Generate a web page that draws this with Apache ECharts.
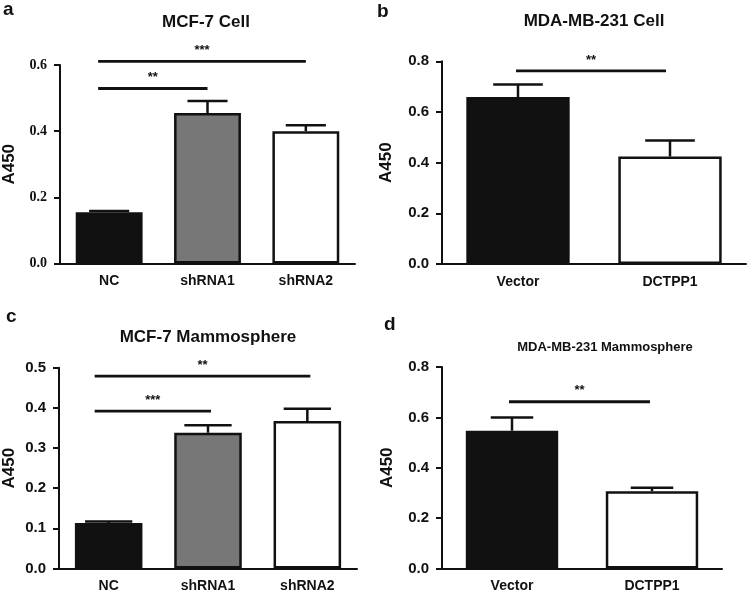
<!DOCTYPE html>
<html>
<head>
<meta charset="utf-8">
<script src="https://cdn.jsdelivr.net/npm/echarts@6/dist/echarts.min.js"></script>
<style>html,body{margin:0;padding:0;background:#fff}#c{width:748px;height:596px}</style>
</head>
<body>
<div id="c"></div>
<script>
// ---- Data ----
const catsA = ['NC', 'shRNA1', 'shRNA2'];
const meanA = [0.155, 0.455, 0.400];
const errA  = [0.004, 0.036, 0.018];
const sigA  = [[0, 2, 0.611], [0, 1, 0.529]];
const starsA = ['***', '**'];

const catsB = ['Vector', 'DCTPP1'];
const meanB = [0.659, 0.424];
const errB  = [0.049, 0.063];
const sigB  = [[0, 1, 0.762]];
const starsB = ['**'];

const catsC = ['NC', 'shRNA1', 'shRNA2'];
const meanC = [0.113, 0.338, 0.367];
const errC  = [0.004, 0.019, 0.031];
const sigC  = [[0, 2, 0.479], [0, 1, 0.392]];
const starsC = ['**', '***'];

const catsD = ['Vector', 'DCTPP1'];
const meanD = [0.547, 0.307];
const errD  = [0.053, 0.014];
const sigD  = [[0, 1, 0.662]];
const starsD = ['**'];

const titles = ['MCF-7 Cell', 'MDA-MB-231 Cell', 'MCF-7 Mammosphere', 'MDA-MB-231 Mammosphere'];
const letters = ['a', 'b', 'c', 'd'];
const yMax = [0.6, 0.8, 0.5, 0.8];
const yStep = [0.2, 0.2, 0.1, 0.2];
const yName = 'A450';

// ---- Styles / layout ----
const SANS = '"Liberation Sans", Arial, sans-serif';
const SERIF = '"Liberation Serif", "Times New Roman", serif';
const INK = '#111';
const panels = [
  {cats: catsA, mean: meanA, err: errA, sig: sigA, stars: starsA,
   grid: {left: 58, top: 65, width: 297, height: 198.5}, barW: '68%', barRatio: 0.68, cap: 0.6,
   colors: ['#111', '#777', '#fff'], tickFont: SERIF, tickSize: 14, nameGap: 42, padL: -11, padR: 0},
  {cats: catsB, mean: meanB, err: errB, sig: sigB, stars: starsB,
   grid: {left: 442, top: 61.3, width: 304, height: 202.7}, barW: '68%', barRatio: 0.68, cap: 0.48,
   colors: ['#111', '#fff'], tickFont: SANS, tickSize: 15, nameGap: 47, padL: -2, padR: -4},
  {cats: catsC, mean: meanC, err: errC, sig: sigC, stars: starsC,
   grid: {left: 59, top: 367.7, width: 298, height: 200.8}, barW: '68%', barRatio: 0.68, cap: 0.7,
   colors: ['#111', '#777', '#fff'], tickFont: SANS, tickSize: 15, nameGap: 41, padL: -14, padR: 3},
  {cats: catsD, mean: meanD, err: errD, sig: sigD, stars: starsD,
   grid: {left: 442, top: 367, width: 280, height: 201.5}, barW: '66%', barRatio: 0.66, cap: 0.46,
   colors: ['#111', '#fff'], tickFont: SANS, tickSize: 15, nameGap: 46, padL: -3, padR: -2}
];
const titlePos = [[206, 14], [594, 12.5], [208, 329], [605, 340.5]];
const titleSize = [17, 17, 17, 13];
const letterPos = [[3, 0], [377, 2], [6, 307], [384, 315]];

const option = {
  backgroundColor: '#fff',
  animation: false,
  title: [],
  grid: [], xAxis: [], yAxis: [], series: []
};

letters.forEach((l, i) => {
  option.title.push({text: l, left: letterPos[i][0], top: letterPos[i][1], padding: 0,
    textStyle: {fontSize: 19, fontWeight: 'bold', color: INK, fontFamily: SANS}});
  option.title.push({text: titles[i], left: titlePos[i][0], top: titlePos[i][1], padding: 0, textAlign: 'center',
    textStyle: {fontSize: titleSize[i], fontWeight: 'bold', color: INK, fontFamily: SANS}});
});

panels.forEach((p, k) => {
  option.grid.push(Object.assign({containLabel: false}, p.grid));
  option.xAxis.push({
    type: 'category', gridIndex: k, data: p.cats,
    axisLine: {lineStyle: {color: INK, width: 2}},
    axisTick: {alignWithLabel: true, length: 6, lineStyle: {color: INK, width: 2}},
    axisLabel: {color: INK, fontSize: 14, fontWeight: 'bold', fontFamily: SANS, margin: 11},
    splitLine: {show: false}
  });
  option.yAxis.push({
    type: 'value', gridIndex: k, min: 0, max: yMax[k], interval: yStep[k],
    name: yName, nameLocation: 'middle', nameGap: p.nameGap,
    nameTextStyle: {fontSize: 17, fontWeight: 'bold', color: INK, fontFamily: SANS},
    axisLine: {show: true, lineStyle: {color: INK, width: 2}},
    axisTick: {show: true, length: 6, lineStyle: {color: INK, width: 2}},
    axisLabel: {color: INK, fontSize: p.tickSize, fontWeight: 'bold', fontFamily: p.tickFont, margin: 13,
      formatter: v => v.toFixed(1)},
    splitLine: {show: false}
  });
  option.series.push({
    type: 'bar', xAxisIndex: k, yAxisIndex: k, barWidth: p.barW,
    data: p.mean.map((v, i) => ({value: v, itemStyle: {color: p.colors[i]}})),
    itemStyle: {borderColor: INK, borderWidth: 2.5},
    z: 2
  });
  option.series.push({
    type: 'custom', xAxisIndex: k, yAxisIndex: k, z: 3,
    encode: {x: 0, y: 1},
    data: p.mean.map((v, i) => [i, v, p.err[i]]),
    renderItem: (params, api) => {
      const i = api.value(0), v = api.value(1), e = api.value(2);
      const b = api.coord([i, v]);
      const t = api.coord([i, v + e]);
      const hw = api.size([1, 0])[0] * p.barRatio * p.cap / 2;
      return {type: 'group', children: [
        {type: 'line', shape: {x1: b[0], y1: b[1], x2: t[0], y2: t[1]}, style: {stroke: INK, lineWidth: 2.5}},
        {type: 'line', shape: {x1: t[0] - hw, y1: t[1], x2: t[0] + hw, y2: t[1]}, style: {stroke: INK, lineWidth: 2.5}}
      ]};
    }
  });
  option.series.push({
    type: 'custom', xAxisIndex: k, yAxisIndex: k, z: 3, clip: false,
    encode: {x: [0, 1], y: 2},
    data: p.sig,
    renderItem: (params, api) => {
      const a = api.coord([api.value(0), api.value(2)]);
      const c = api.coord([api.value(1), api.value(2)]);
      const x1 = a[0] + p.padL, x2 = c[0] + p.padR;
      return {type: 'group', children: [
        {type: 'line', shape: {x1: x1, y1: a[1], x2: x2, y2: a[1]}, style: {stroke: INK, lineWidth: 2.8}},
        {type: 'text', x: (x1 + x2) / 2, y: a[1] - 11,
         style: {text: p.stars[params.dataIndex], fill: INK, fontSize: 13, fontWeight: 'bold',
                 fontFamily: SANS, align: 'center', verticalAlign: 'middle'}}
      ]};
    }
  });
});

const chart = echarts.init(document.getElementById('c'), null, {renderer: 'canvas'});
chart.setOption(option);
</script>
</body>
</html>
